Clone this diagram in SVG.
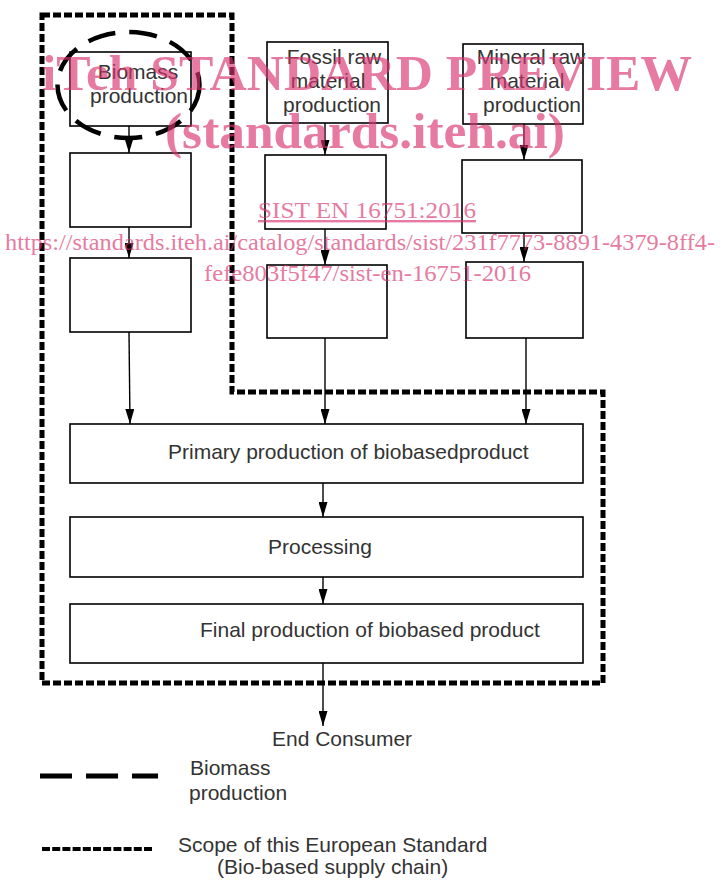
<svg xmlns="http://www.w3.org/2000/svg" width="722" height="881" viewBox="0 0 722 881">
<style>
.box{fill:#fff;stroke:#000;stroke-width:1.6}
.lbl{font-family:"Liberation Sans",Arial,sans-serif;font-size:21px;fill:#333}
.con{stroke:#000;stroke-width:1.4;fill:none;marker-end:url(#ah)}
.scope{fill:none;stroke:#000;stroke-width:5;stroke-dasharray:8 3}
.bio{fill:none;stroke:#000;stroke-width:4.5;stroke-dasharray:28 14}
.wm{font-family:"Liberation Serif","Times New Roman",serif;fill:#d9346f;opacity:0.65}
</style>
<defs>
<marker id="ah" markerUnits="userSpaceOnUse" markerWidth="15" markerHeight="9" viewBox="0 0 15 9" refX="15" refY="4.5" orient="auto">
<path d="M0,0 L15,4.5 L0,9 z" fill="#000"/>
</marker>
</defs>
<rect width="722" height="881" fill="#fff"/>

<g id="scope">
<path class="scope" d="M42,15 H232 V392 H603 V683 H42 Z"/>
</g>

<g id="biomass-production">
<rect class="box" x="70" y="52" width="121" height="74"/>
<text class="lbl" x="138" y="79" text-anchor="middle">Biomass</text>
<text class="lbl" x="139" y="103" text-anchor="middle">production</text>
</g>
<g id="biomass-ellipse">
<ellipse class="bio" cx="128.5" cy="85" rx="71" ry="53"/>
</g>
<g id="bio-step2"><rect class="box" x="70" y="153" width="121" height="74"/></g>
<g id="bio-step3"><rect class="box" x="70" y="258" width="121" height="74"/></g>

<g id="fossil">
<rect class="box" x="267" y="42" width="121" height="81"/>
<text class="lbl" x="334" y="64" text-anchor="middle">Fossil raw</text>
<text class="lbl" x="328" y="88" text-anchor="middle">material</text>
<text class="lbl" x="332" y="112" text-anchor="middle">production</text>
</g>
<g id="fossil-step2"><rect class="box" x="265" y="155" width="121" height="74"/></g>
<g id="fossil-step3"><rect class="box" x="267" y="265" width="120" height="73"/></g>

<g id="mineral">
<rect class="box" x="463" y="44" width="120" height="80"/>
<text class="lbl" x="531" y="64" text-anchor="middle">Mineral raw</text>
<text class="lbl" x="527" y="88" text-anchor="middle">material</text>
<text class="lbl" x="532" y="112" text-anchor="middle">production</text>
</g>
<g id="mineral-step2"><rect class="box" x="462" y="160" width="120" height="73"/></g>
<g id="mineral-step3"><rect class="box" x="466" y="262" width="117" height="76"/></g>

<g id="primary">
<rect class="box" x="70" y="424" width="513" height="59"/>
<text class="lbl" x="168" y="459">Primary production of biobasedproduct</text>
</g>
<g id="processing">
<rect class="box" x="70" y="517" width="513" height="60"/>
<text class="lbl" x="268" y="554">Processing</text>
</g>
<g id="final">
<rect class="box" x="70" y="604" width="513" height="59"/>
<text class="lbl" x="200" y="637">Final production of biobased product</text>
</g>
<g id="end-consumer">
<text class="lbl" x="272" y="746">End Consumer</text>
</g>

<g id="connectors">
<line class="con" x1="129" y1="126" x2="129" y2="153"/>
<line class="con" x1="129" y1="227" x2="129" y2="258"/>
<line class="con" x1="129" y1="332" x2="130" y2="424"/>
<line class="con" x1="325" y1="123" x2="325" y2="155"/>
<line class="con" x1="325" y1="229" x2="325" y2="265"/>
<line class="con" x1="325" y1="338" x2="325" y2="424"/>
<line class="con" x1="524" y1="124" x2="524" y2="160"/>
<line class="con" x1="524" y1="233" x2="524" y2="262"/>
<line class="con" x1="526" y1="338" x2="526" y2="424"/>
<line class="con" x1="323" y1="483" x2="323" y2="517"/>
<line class="con" x1="323" y1="577" x2="323" y2="604"/>
<line class="con" x1="323" y1="663" x2="323" y2="726"/>
</g>

<g id="legend">
<line x1="40" y1="776" x2="158" y2="776" stroke="#000" stroke-width="5" stroke-dasharray="32 14"/>
<text class="lbl" x="190" y="775">Biomass</text>
<text class="lbl" x="189" y="800">production</text>
<line x1="42" y1="849" x2="152" y2="849" stroke="#000" stroke-width="4" stroke-dasharray="8 2.2"/>
<text class="lbl" x="178" y="852">Scope of this European Standard</text>
<text class="lbl" x="217" y="874">(Bio-based supply chain)</text>
</g>

<g id="watermark">
<text class="wm" x="42" y="90" font-size="50" font-weight="bold" textLength="650" lengthAdjust="spacingAndGlyphs">iTeh STANDARD PREVIEW</text>
<text class="wm" x="165" y="148" font-size="50" font-weight="bold" textLength="400" lengthAdjust="spacingAndGlyphs">(standards.iteh.ai)</text>
<text class="wm" x="258" y="218" font-size="24" textLength="218" lengthAdjust="spacingAndGlyphs" text-decoration="underline">SIST EN 16751:2016</text>
<text class="wm" x="5" y="250" font-size="24" textLength="710" lengthAdjust="spacingAndGlyphs">https://standards.iteh.ai/catalog/standards/sist/231f7773-8891-4379-8ff4-</text>
<text class="wm" x="204" y="281" font-size="24" textLength="327" lengthAdjust="spacingAndGlyphs">fefe803f5f47/sist-en-16751-2016</text>
</g>
</svg>
